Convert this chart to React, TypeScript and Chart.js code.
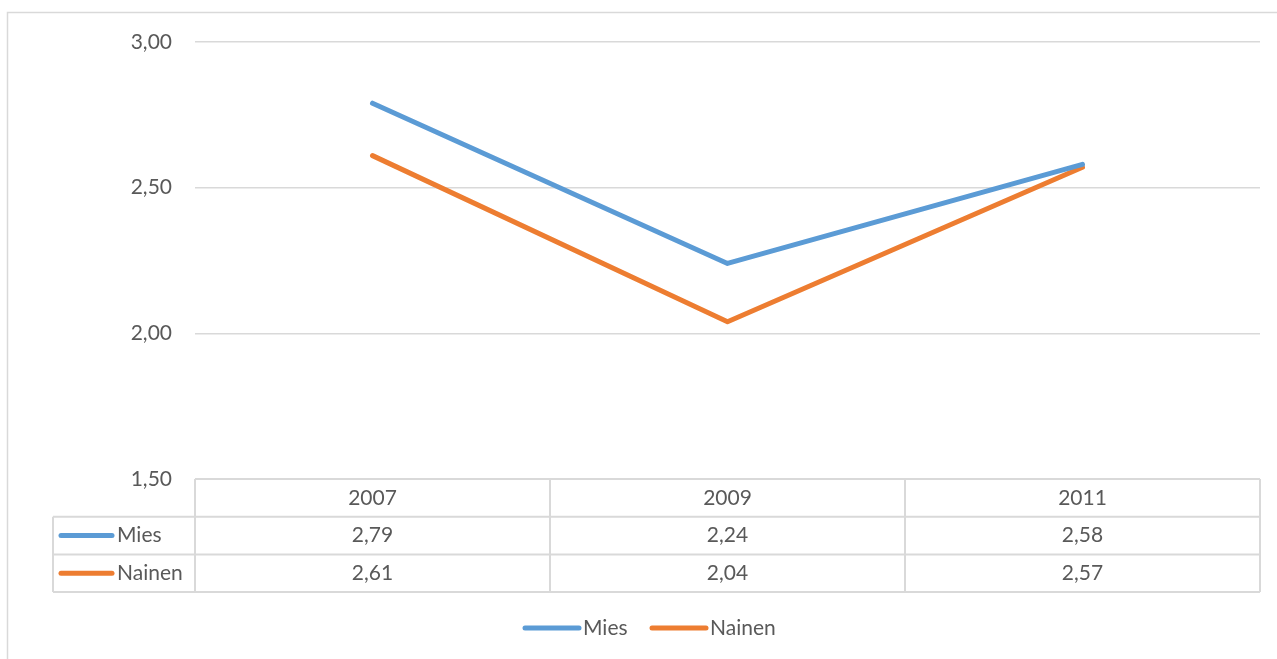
import React, { useEffect, useRef } from "react";
import { Chart, registerables } from "chart.js";

Chart.register(...registerables);

const categories = ["2007", "2009", "2011"];
const miesValues = [2.79, 2.24, 2.58];
const nainenValues = [2.61, 2.04, 2.57];
const seriesNames = ["Mies", "Nainen"];
const seriesColors = ["#5B9BD5", "#ED7D31"];
const yMin = 1.5;
const yMax = 3.0;
const yStep = 0.5;

const FONT_FAMILY = "Lato, 'Open Sans', sans-serif";
const FONT_SIZE = 21;
const TEXT_COLOR = "#595959";
const GRID_COLOR = "#D9D9D9";
const LINE_W = 5;

const fmt = (v: number) => Number(v).toFixed(2).replace(".", ",");

const tablePlugin = {
  id: "dataTableAndLegend",
  afterDraw(chart: any) {
    const { ctx, chartArea } = chart;
    const W = chart.width;
    const H = chart.height;
    ctx.save();

    // outer chart border
    ctx.strokeStyle = GRID_COLOR;
    ctx.lineWidth = 1.5;
    ctx.beginPath();
    ctx.moveTo(7.5, H + 2);
    ctx.lineTo(7.5, 12.5);
    ctx.lineTo(W + 2, 12.5);
    ctx.stroke();

    // data table
    const left = chartArea.left;
    const right = chartArea.right;
    const top = chartArea.bottom;
    const rowH = 37.7;
    const labelLeft = 53;
    const n = categories.length;
    const colW = (right - left) / n;
    const bottom = top + rowH * 3;

    ctx.strokeStyle = GRID_COLOR;
    ctx.lineWidth = 2;
    ctx.beginPath();
    ctx.moveTo(left, top);
    ctx.lineTo(right, top);
    for (let r = 1; r <= 3; r++) {
      ctx.moveTo(labelLeft, top + rowH * r);
      ctx.lineTo(right, top + rowH * r);
    }
    ctx.moveTo(labelLeft, top + rowH);
    ctx.lineTo(labelLeft, bottom);
    for (let c = 0; c <= n; c++) {
      ctx.moveTo(left + colW * c, top);
      ctx.lineTo(left + colW * c, bottom);
    }
    ctx.stroke();

    ctx.font = `${FONT_SIZE}px ${FONT_FAMILY}`;
    ctx.fillStyle = TEXT_COLOR;
    ctx.textBaseline = "middle";
    ctx.textAlign = "center";
    const xScale = chart.scales.x;
    categories.forEach((cat, i) => {
      const cx = xScale.getPixelForValue(i);
      ctx.fillText(cat, cx, top + rowH * 0.5);
    });
    const allSeries = [miesValues, nainenValues];
    allSeries.forEach((vals, s) => {
      const cy = top + rowH * (s + 1.5);
      vals.forEach((v, i) => {
        const cx = xScale.getPixelForValue(i);
        ctx.textAlign = "center";
        ctx.fillStyle = TEXT_COLOR;
        ctx.fillText(fmt(v), cx, cy);
      });
      ctx.strokeStyle = seriesColors[s];
      ctx.lineWidth = LINE_W;
      ctx.lineCap = "round";
      ctx.beginPath();
      ctx.moveTo(61, cy);
      ctx.lineTo(112, cy);
      ctx.stroke();
      ctx.textAlign = "left";
      ctx.fillStyle = TEXT_COLOR;
      ctx.fillText(seriesNames[s], 117, cy);
    });

    // bottom legend
    const ly = 628;
    const keyStarts = [525, 652];
    const keyW = 54;
    const gap = 4;
    seriesNames.forEach((nm, s) => {
      const x = keyStarts[s];
      ctx.strokeStyle = seriesColors[s];
      ctx.lineWidth = LINE_W;
      ctx.lineCap = "round";
      ctx.beginPath();
      ctx.moveTo(x, ly);
      ctx.lineTo(x + keyW, ly);
      ctx.stroke();
      ctx.textAlign = "left";
      ctx.fillStyle = TEXT_COLOR;
      ctx.fillText(nm, x + keyW + gap, ly);
    });
    ctx.restore();
  },
};

export default function App() {
  const canvasRef = useRef<HTMLCanvasElement | null>(null);

  useEffect(() => {
    const canvas = canvasRef.current;
    if (!canvas) return;
    const chart = new Chart(canvas, {
      type: "line",
      data: {
        labels: categories,
        datasets: [
          {
            label: seriesNames[0],
            data: miesValues,
            borderColor: seriesColors[0],
            backgroundColor: seriesColors[0],
            borderWidth: LINE_W,
            pointRadius: 0,
            borderCapStyle: "round",
            borderJoinStyle: "round",
            tension: 0,
          },
          {
            label: seriesNames[1],
            data: nainenValues,
            borderColor: seriesColors[1],
            backgroundColor: seriesColors[1],
            borderWidth: LINE_W,
            pointRadius: 0,
            borderCapStyle: "round",
            borderJoinStyle: "round",
            tension: 0,
          },
        ],
      },
      options: {
        animation: false,
        responsive: false,
        maintainAspectRatio: false,
        devicePixelRatio: 1,
        layout: { padding: { top: 42, right: 17, bottom: 180, left: 0 } },
        plugins: {
          legend: { display: false },
          tooltip: { enabled: false },
        },
        scales: {
          x: {
            type: "category",
            display: false,
            offset: true,
          },
          y: {
            min: yMin,
            max: yMax,
            ticks: {
              stepSize: yStep,
              callback: (v: any) => fmt(Number(v)),
              color: TEXT_COLOR,
              font: { family: FONT_FAMILY, size: FONT_SIZE },
              padding: 23,
            },
            grid: { color: GRID_COLOR, lineWidth: 1.5, drawTicks: false },
            border: { display: false },
            afterFit: (s: any) => {
              s.width = 195;
            },
          },
        },
      } as any,
      plugins: [tablePlugin],
    });
    return () => chart.destroy();
  }, []);

  return (
    <div style={{ position: "absolute", left: 0, top: 0, width: 1277, height: 659, background: "#fff" }}>
      <canvas ref={canvasRef} width={1277} height={659} style={{ display: "block", width: 1277, height: 659 }} />
    </div>
  );
}
